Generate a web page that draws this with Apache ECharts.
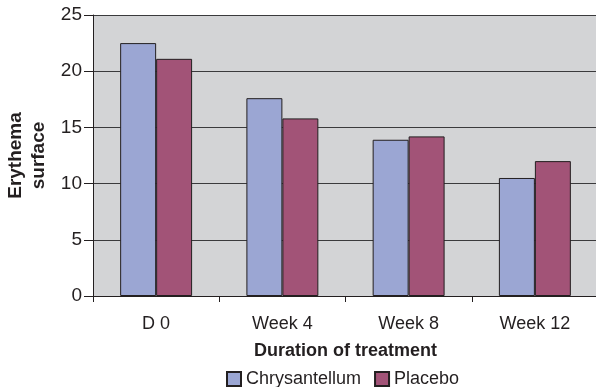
<!DOCTYPE html>
<html>
<head>
<meta charset="utf-8">
<script src="https://cdn.jsdelivr.net/npm/echarts@6/dist/echarts.min.js"></script>
<style>
  html, body { margin: 0; padding: 0; background: #fff; }
  #main { width: 596px; height: 387px; }
</style>
</head>
<body>
<div id="main"></div>
<script>
var categories = ['D 0', 'Week 4', 'Week 8', 'Week 12'];
var chrysantellum = [22.5, 17.6, 13.9, 10.5];
var placebo = [21.1, 15.8, 14.2, 12.0];
var yTicks = [0, 5, 10, 15, 20, 25];

window.onload = function () {
  var myChart = echarts.init(document.getElementById('main'));
  var font = 'Liberation Sans, Arial, Helvetica, sans-serif';
  myChart.setOption({
    animation: false,
    textStyle: { fontFamily: font },
    legend: {
      top: 365,
      left: 221,
      itemWidth: 14,
      itemHeight: 14,
      itemGap: 13,
      icon: 'rect',
      textStyle: { fontFamily: font, fontSize: 18, color: '#231f20' },
      data: ['Chrysantellum', 'Placebo']
    },
    grid: {
      left: 93,
      right: -2,
      top: 15,
      bottom: 91,
      outerBoundsMode: 'none',
      show: true,
      backgroundColor: '#d3d4d6',
      borderWidth: 0
    },
    xAxis: {
      type: 'category',
      data: categories,
      name: 'Duration of treatment',
      nameLocation: 'middle',
      nameGap: 46,
      nameMoveOverlap: false,
      nameTextStyle: { fontFamily: font, fontSize: 18, fontWeight: 'bold', color: '#231f20' },
      axisLine: { lineStyle: { color: '#231f20', width: 1 } },
      axisTick: { show: true, alignWithLabel: false, length: 6, lineStyle: { color: '#231f20' } },
      axisLabel: { fontFamily: font, fontSize: 18, color: '#231f20', margin: 19 },
      splitLine: { show: false }
    },
    yAxis: {
      type: 'value',
      min: yTicks[0],
      max: yTicks[yTicks.length - 1],
      interval: 5,
      name: 'Erythema\nsurface',
      nameLocation: 'middle',
      nameRotate: 90,
      nameGap: 43,
      nameMoveOverlap: false,
      nameTextStyle: { fontFamily: font, fontSize: 19, fontWeight: 'bold', color: '#231f20', lineHeight: 23 },
      axisLine: { show: true, lineStyle: { color: '#231f20', width: 1 } },
      axisTick: { show: true, length: 9, lineStyle: { color: '#231f20' } },
      axisLabel: { fontFamily: font, fontSize: 19, color: '#231f20', margin: 11 },
      splitLine: { show: true, lineStyle: { color: '#3a3a3c', width: 1 } }
    },
    series: [{
      name: 'Chrysantellum',
      type: 'bar',
      data: chrysantellum,
      barGap: '0%',
      barCategoryGap: '43%',
      itemStyle: { color: '#9ba6d3', borderColor: '#231f20', borderWidth: 1 }
    }, {
      name: 'Placebo',
      type: 'bar',
      data: placebo,
      barGap: '0%',
      barCategoryGap: '43%',
      itemStyle: { color: '#a25377', borderColor: '#231f20', borderWidth: 1 }
    }]
  });
};
</script>
</body>
</html>
